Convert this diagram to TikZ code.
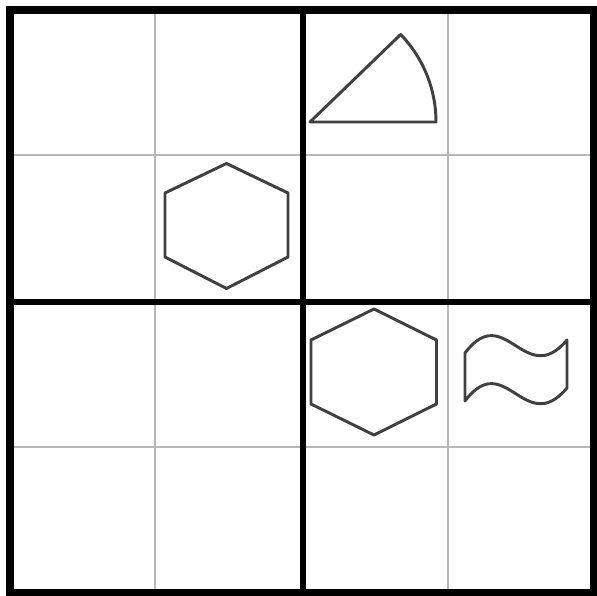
\documentclass[tikz,border=0pt]{standalone}
\usepackage{tikz}
\usetikzlibrary{calc}

\begin{document}
\begin{tikzpicture}[x=0.0137cm,y=-0.0137cm,
    thin grid/.style={draw=black!28,line width=0.8pt},
    thick grid/.style={draw=black,line width=2.1pt},
    figure/.style={draw=black!75,line width=1.15pt,line join=round}]
  \useasboundingbox (0,0) rectangle (597,596);

  % thin cell lines
  \draw[thin grid] (155,10) -- (155,594) (448,10) -- (448,594);
  \draw[thin grid] (10,155) -- (594,155) (10,447) -- (594,447);
  % block lines
  \draw[thick grid] (303,10) -- (303,594) (10,302) -- (594,302);
  \draw[thick grid,line width=2.8pt] (10,10) rectangle (594,593);

  % sector
  \coordinate (tip) at (310,122);
  \draw[figure] (tip) -- ++(126,0) arc[start angle=0,end angle=-44,radius=126] -- cycle;

  % hexagons
  \draw[figure] (226.5,163.5) -- (288,193) -- (288,257) -- (226.5,288.5)
    -- (165,257) -- (165,193) -- cycle;
  \draw[figure] (374,309) -- (436.5,340) -- (436.5,404) -- (374,435)
    -- (311,404) -- (311,340) -- cycle;

  % wave
  \draw[figure] (465,353) .. controls (505,300) and (525,390) .. (567,340)
    -- (567,388) .. controls (525,438) and (505,348) .. (465,401) -- cycle;
\end{tikzpicture}
\end{document}
